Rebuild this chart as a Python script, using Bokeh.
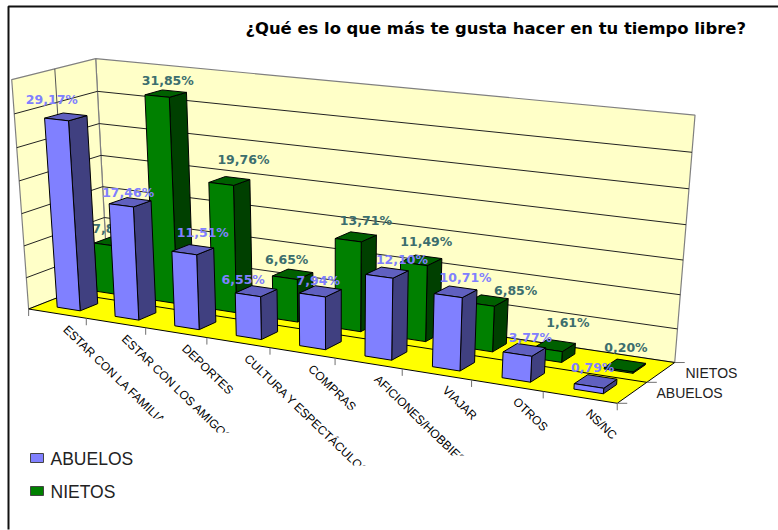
import numpy as np
from bokeh.plotting import figure
from bokeh.embed import file_html
from bokeh.resources import INLINE
from bokeh.core.properties import value

# ---- data ----
title = "¿Qué es lo que más te gusta hacer en tu tiempo libre?"
categories = ["ESTAR CON LA FAMILIA", "ESTAR CON LOS AMIGOS", "DEPORTES",
              "CULTURA Y ESPECTÁCULOS", "COMPRAS", "AFICIONES/HOBBIES",
              "VIAJAR", "OTROS", "NS/NC"]
series_names = ["ABUELOS", "NIETOS"]
abuelos = [29.17, 17.46, 11.51, 6.55, 7.94, 12.10, 10.71, 3.77, 0.79]
nietos = [7.86, 31.85, 19.76, 6.65, 13.71, 11.49, 6.85, 1.61, 0.20]
y_ticks = [0, 5, 10, 15, 20, 25, 30, 35]
y_max = 35.0

# ---- projection of the 3D box (x: category, y: value, z: depth) to page pixels ----
calib = [((0,0,0),(28,308)),((0,1,0),(11,79)),((0,1,1),(96,57)),
         ((1,0,1),(675,362)),((1,1,1),(695,115)),((1,0,0),(616,403))]
for k,(u,v) in zip(range(1,9),[(86,318),(146,327),(206,337),(270,347),(334,358),(402,369),(471,380),(543,391)]):
    calib.append(((k/9,0,0),(u,v)))
for k,(u,v) in zip(range(6,0,-1),[(692,152),(688,188),(685,224),(682,259),(680,294),(677,328)]):
    calib.append(((1,k/7,1),(u,v)))
for k,(u,v) in zip(range(6,3,-1),[(97,92),(98,124),(100,155)]):
    calib.append(((0,k/7,1),(u,v)))
for k,(u,v) in zip(range(6,0,-1),[(14,113),(16,147),(19,181),(21,213),(23,245),(26,277)]):
    calib.append(((0,k/7,0),(u,v)))
A, b = [], []
for (X,Y,Z),(u,v) in calib:
    A.append([X,Y,Z,1,0,0,0,0,-u*X,-u*Y,-u*Z]); b.append(u)
    A.append([0,0,0,0,X,Y,Z,1,-v*X,-v*Y,-v*Z]); b.append(v)
h = np.linalg.lstsq(np.array(A,float), np.array(b,float), rcond=None)[0]
def proj(X, Y, Z):
    w = h[8]*X+h[9]*Y+h[10]*Z+1
    return ((h[0]*X+h[1]*Y+h[2]*Z+h[3])/w, (h[4]*X+h[5]*Y+h[6]*Z+h[7])/w)
def poly(pts):
    q = [proj(*t) for t in pts]
    return [a for a,_ in q], [c for _,c in q]

p = figure(width=778, height=530, x_range=(0,778), y_range=(530,0), output_backend="svg",
           toolbar_location=None, min_border=0)
p.axis.visible = False
p.grid.visible = False
p.outline_line_color = None
p.background_fill_color = "white"
p.border_fill_color = "white"

# page frame
p.line([8,8,778],[529,6,6], line_color="#111111", line_width=2)

# walls and floor
WALL, EDGE = "#FFFFC8", "#808080"
p.patches(*zip(poly([(0,0,1),(0,1,1),(1,1,1),(1,0,1)]), poly([(0,0,0),(0,1,0),(0,1,1),(0,0,1)])),
          fill_color=WALL, line_color=EDGE, line_width=1.2)
fx, fy = poly([(0,0,0),(0,0,1),(1,0,1),(1,0,0)])
p.patch(fx, fy, fill_color="#FFFF00", line_color="black", line_width=1)
for t in y_ticks[1:-1]:
    v = t/y_max
    x1,y1 = poly([(0,v,0),(0,v,1),(1,v,1)])
    p.line(x1,y1,line_color="#222222",line_width=1)
x1,y1 = poly([(0,0,.5),(0,1,.5)])
p.line(x1,y1,line_color="#555555",line_width=1)
x1,y1 = poly([(0,0,.5),(1,0,.5)])
p.line(x1,y1,line_color="black",line_width=1)

# ticks
n = len(categories)
for i in range(n+1):
    a,c = proj(i/n,0,0)
    p.line([a,a],[c,c+7],line_color="#707070",line_width=1)
for z in (0,.5,1):
    a,c = proj(1,0,z)
    p.line([a,a+10],[c,c],line_color="#707070",line_width=1)

# bars
BW, BD = 0.4, 0.22
def bar_faces(i, val, zc, cols):
    x0,x1 = (i+.5-BW/2)/n, (i+.5+BW/2)/n
    z0,z1 = zc-BD/2, zc+BD/2
    v = val/y_max
    xs,ys,fs = [],[],[]
    for pts,col in (([(x1,0,z0),(x1,v,z0),(x1,v,z1),(x1,0,z1)],cols[1]),
                    ([(x0,v,z0),(x0,v,z1),(x1,v,z1),(x1,v,z0)],cols[2]),
                    ([(x0,0,z0),(x0,v,z0),(x1,v,z0),(x1,0,z0)],cols[0])):
        a,c = poly(pts); xs.append(a); ys.append(c); fs.append(col)
    return xs,ys,fs

def draw_series(vals, zc, cols, txt, off):
    X,Y,F = [],[],[]
    for i,val in enumerate(vals):
        a,c,f = bar_faces(i,val,zc,cols); X+=a; Y+=c; F+=f
    p.patches(X,Y,fill_color=F,line_color="black",line_width=1)
    lx,ly,lt = [],[],[]
    for i,val in enumerate(vals):
        a,c = proj((i+.5)/n, val/y_max, zc)
        lx.append(a+off[i][0]); ly.append(c-15+off[i][1]); lt.append(f"{val:.2f}%".replace(".",","))
    p.text(lx,ly,text=lt,text_color=txt,text_font=value("DejaVu Sans"),text_font_style="bold",
           text_font_size="12.5px",text_align="center",text_baseline="middle")

label_shift_n = [(0,2),(2,2),(14,-6),(-6,0),(10,-1),(5,-4),(28,5),(13,-8),(1,-3)]
label_shift_a = [(-14,-2),(-2,5),(10,-2),(-13,3),(-2,4),(15,2),(10,1),(6,3),(-3,1)]
draw_series(nietos, .75, ("#008000","#004000","#006000"), "#3C6E6E", label_shift_n)
draw_series(abuelos, .25, ("#8080FF","#404080","#6060C0"), "#8080FF", label_shift_a)

# category labels, cut the way the reference cuts them
ANG = 44
clip_y = [418,432,393,465,409,455,420,430,439]
t_ = np.tan(np.radians(ANG))
for i,c in enumerate(categories):
    a,b_ = proj((i+.5)/n,0,0)
    a+=8; b_+=14
    p.text([a],[b_],text=[c],angle=[-ANG],angle_units="deg",text_font=value("Liberation Sans"),
           text_font_size="12px",text_color="black",text_align="left",text_baseline="middle")
    yc = clip_y[i]
    xc = a+(yc-b_)/t_
    L = 130
    p.patch([xc-18,xc+18,xc+18+L,xc-18+L],[yc,yc,yc+L*t_,yc+L*t_],fill_color="white",line_color=None)

# depth labels
for xx,yy,name in ((685,372,series_names[1]),(656,392,series_names[0])):
    p.text([xx],[yy],text=[name],text_font=value("Liberation Sans"),text_font_size="14px",
           text_color="#222222",text_align="left",text_baseline="middle")

# legend
for yy,col,name in ((453,"#8080FF",series_names[0]),(486,"#008000",series_names[1])):
    p.quad(left=[30],right=[43],top=[yy],bottom=[yy+9],fill_color=col,line_color="#444444",line_width=1)
    p.text([50],[yy+5],text=[name],text_font=value("Liberation Sans"),text_font_size="17.5px",
           text_color="#222222",text_align="left",text_baseline="middle")

# title
p.text([245],[28],text=[title],text_font=value("DejaVu Sans"),text_font_style="bold",
       text_font_size="16.4px",text_color="black",text_align="left",text_baseline="middle")

open("out.html","w").write(file_html(p, INLINE))
